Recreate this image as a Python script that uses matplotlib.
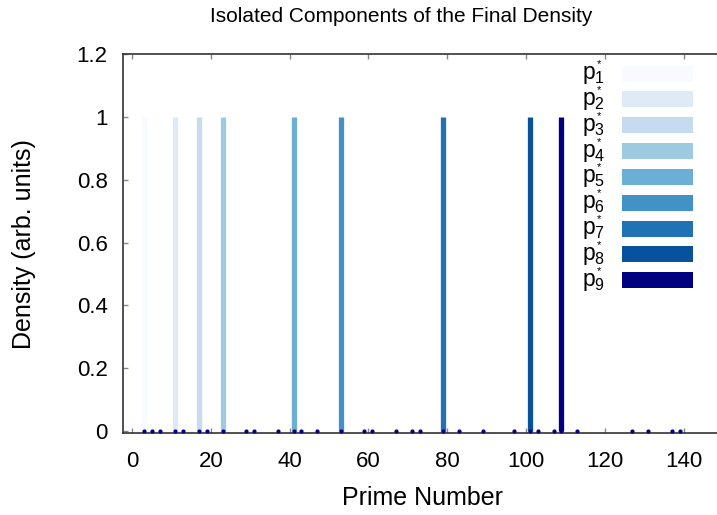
#!/usr/bin/env python3
# -*- coding: utf-8 -*-

"""
Isolated components of the final density: one impulse per component p*_k,
plus small markers on every prime along the x axis.
"""

import matplotlib
matplotlib.use("Agg")
import matplotlib.pyplot as plt
from matplotlib.patches import Rectangle

# ---------------------------------------------------------------------
# data
COMPONENT_X   = [3, 11, 17, 23, 41, 53, 79, 101, 109]
COMPONENT_Y   = [1, 1, 1, 1, 1, 1, 1, 1, 1]
COMPONENT_LAB = [r"p$_{\overset{*}{%d}}$" % k for k in range(1, 10)]
COLORS        = ["#f7fbff", "#deebf7", "#c6dbef", "#9ecae1", "#6baed6",
                 "#4292c6", "#2171b5", "#08519c", "#000080"]

PRIMES = [3, 5, 7, 11, 13, 17, 19, 23, 29, 31, 37, 41, 43, 47, 53, 59, 61,
          67, 71, 73, 79, 83, 89, 97, 101, 103, 107, 109, 113, 127, 131,
          137, 139]
PRIME_Y = [0] * len(PRIMES)

X_TICKS = [0, 20, 40, 60, 80, 100, 120, 140]
Y_TICKS = [0, 0.2, 0.4, 0.6, 0.8, 1.0, 1.2]
Y_TICK_LABELS = ["0", "0.2", "0.4", "0.6", "0.8", "1", "1.2"]

W, H = 717, 515


def main() -> None:
    plt.rcParams["font.family"] = ["Liberation Sans", "DejaVu Sans"]
    plt.rcParams["mathtext.default"] = "regular"

    fig = plt.figure(figsize=(W / 100, H / 100), dpi=100)
    ax = fig.add_axes([123 / W, (H - 433.3) / H, 600 / W, (433.3 - 54) / H])

    # impulses
    for x, y, c in zip(COMPONENT_X, COMPONENT_Y, COLORS):
        ax.vlines(x, 0, y, colors=c, linewidth=3.8, zorder=2)

    # primes along the axis
    ax.plot(PRIMES, PRIME_Y, linestyle="none", marker="o", markersize=2.0,
            color="#000080", zorder=3, clip_on=False)

    ax.set_xlim(-2.3, 150)
    ax.set_ylim(-0.0073, 1.2)
    ax.set_xticks(X_TICKS)
    ax.set_yticks(Y_TICKS)
    ax.set_yticklabels(Y_TICK_LABELS)

    ax.tick_params(axis="both", direction="in", length=3.6, width=1,
                   color="#888888", labelsize=16)
    ax.tick_params(axis="x", top=True, pad=13)
    ax.tick_params(axis="y", pad=11)
    for s in ax.spines.values():
        s.set_color("#333333")
        s.set_linewidth(1.2)
    ax.spines["right"].set_visible(False)

    ax.set_xlabel("Prime Number", fontsize=18, labelpad=10)
    ax.set_ylabel("Density (arb. units)", fontsize=18, labelpad=29)
    fig.text(401 / W, 1 - 17 / H, "Isolated Components of the Final Density",
             ha="center", va="center", fontsize=15)

    # gnuplot-style key: label, then a wide swatch
    row0, step = 73.5, 25.85
    for i, (c, lab) in enumerate(zip(COLORS, COMPONENT_LAB)):
        yc = row0 + i * step
        fig.patches.append(Rectangle((621.7 / W, 1 - (yc + 8) / H), 71.6 / W,
                                     16 / H, transform=fig.transFigure,
                                     facecolor=c, edgecolor="none"))
        fig.text(582.5 / W, 1 - (yc + 6.5) / H, lab, ha="left",
                 va="baseline", fontsize=16.5)

    fig.savefig("out.png", dpi=100)


if __name__ == "__main__":
    main()
